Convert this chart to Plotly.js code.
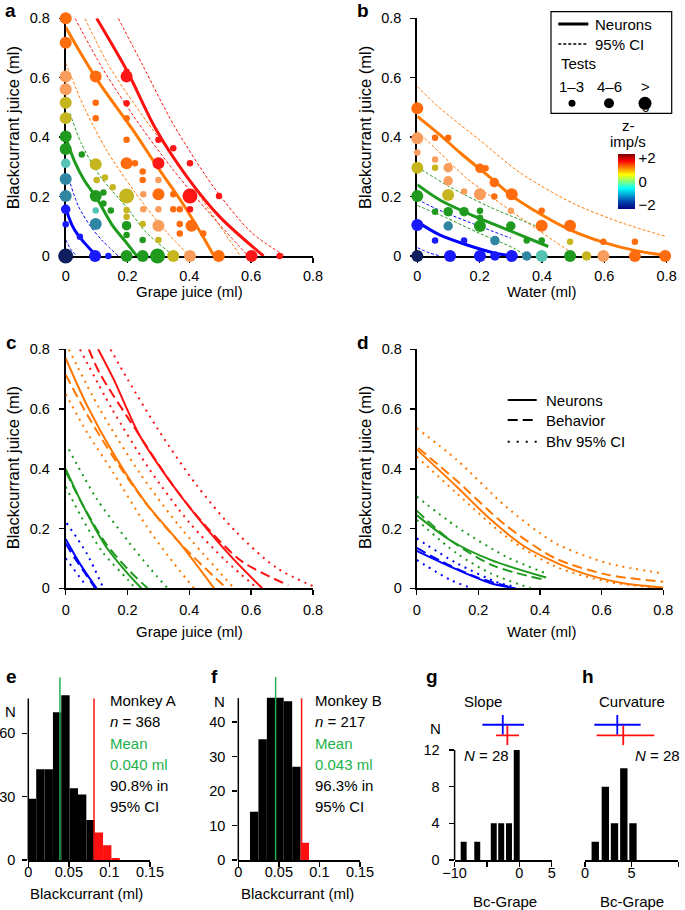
<!DOCTYPE html>
<html>
<head>
<meta charset="utf-8">
<script src="https://cdn.plot.ly/plotly-3.0.1.min.js"></script>
<style>body{margin:0;background:#fff}#fig{width:685px;height:910px}</style>
</head>
<body>
<div id="fig"></div>
<script>
// ---------- values ----------
const juiceTicks = [0, 0.2, 0.4, 0.6, 0.8]

// panel a: indifference curves, grape vs blackcurrant ([x, y] pairs)
const aBlue = [[0,0.16],[0.02,0.105],[0.04,0.07],[0.06,0.045],[0.08,0.022],[0.1,0]]
const aBlueLo = [[0,0.055],[0.015,0.025],[0.035,0]]
const aBlueHi = [[0.01,0.26],[0.04,0.17],[0.08,0.1],[0.12,0.05],[0.17,0]]
const aGreen = [[0,0.4],[0.03,0.315],[0.06,0.255],[0.1,0.195],[0.15,0.105],[0.2,0.04],[0.23,0]]
const aGreenHi = [[0.014,0.48],[0.05,0.38],[0.11,0.27],[0.2,0.16],[0.26,0.08],[0.35,0]]
const aOrange = [[0,0.77],[0.05,0.68],[0.11,0.58],[0.22,0.42],[0.29,0.31],[0.37,0.19],[0.43,0.09],[0.48,0]]
const aOrangeLo = [[0,0.65],[0.06,0.5],[0.13,0.36],[0.22,0.22],[0.31,0.1],[0.4,0]]
const aOrangeHi = [[0.062,0.8],[0.14,0.64],[0.25,0.47],[0.37,0.3],[0.48,0.13],[0.565,0]]
const aRed = [[0.1,0.8],[0.2,0.62],[0.29,0.43],[0.39,0.27],[0.5,0.13],[0.64,0]]
const aRedLo = [[0.03,0.8],[0.12,0.63],[0.22,0.47],[0.34,0.3],[0.46,0.15],[0.59,0]]
const aRedHi = [[0.17,0.8],[0.25,0.64],[0.35,0.44],[0.48,0.23],[0.6,0.08],[0.71,0]]

// panel a: neuronal responses (colour = z-score class, size = number of tests)
const aDotX = [0,0,0,0,0,0,0,0,0,0,0,0,0,0,
  0.095,0.138,0.197,0.249,0.297,0.348,0.402,0.495,0.601,0.692,
  0.046,0.097,0.097,0.097,0.122,0.122,0.146,0.052,0.097,0.1,0.127,0.152,0.197,0.197,0.197,0.197,0.197,0.249,0.249,0.3,0.3,0.251,0.251,0.249,0.249,0.197,0.224,0.197,0.197,0.197,0.197,0.097,0.097,0.097,0.197,0.3,0.348,0.3,0.3,0.3,0.348,0.348,0.369,0.369,0.369,0.407,0.402,0.402,0.402,0.445,0.496,0.3]
const aDotY = [0.8,0.718,0.604,0.561,0.516,0.464,0.402,0.36,0.312,0.259,0.202,0.157,0.107,0,
  0,0,0,0,0,0,0,0,0,0,
  0.065,0.108,0.153,0.202,0.214,0.177,0.153,0.342,0.309,0.256,0.264,0.231,0.202,0.155,0.132,0.102,0.071,0.054,0.108,0.054,0.102,0.157,0.208,0.256,0.284,0.312,0.312,0.391,0.464,0.604,0.62,0.604,0.516,0.464,0.514,0.391,0.363,0.312,0.256,0.208,0.208,0.157,0.157,0.108,0.076,0.102,0.157,0.312,0.202,0.076,0.202,0.157]
const aDotColor = ['or','or','pe','pe','ol','ol','gr','gr','te','st','st','bl','bl','na',
  'bl','bl','gr','gr','gr','ol','pe','or','re','re',
  'bl','st','te','gr','gr','gr','gr','gr','ol','ol','ol','ol','ol','ol','ol','gr','gr','gr','ol','ol','pe','pe','pe','or','or','or','or','or','or','re','re','or','or','or','re','re','re','re','pe','or','or','or','or','or','or','or','re','re','re','or','re','pe']
const aDotSize = [3,3,3,3,3,3,3,3,2,3,3,2,1,4,
  3,1,3,3,4,3,3,3,3,1,
  1,3,1,3,1,1,1,1,3,1,1,1,4,1,1,2,1,1,1,1,3,1,1,1,1,3,1,1,1,3,1,3,1,1,1,1,1,3,1,3,1,1,1,1,1,3,1,1,4,1,1,1]

// panel b: water vs blackcurrant
const bOrange = [[0,0.47],[0.07,0.41],[0.14,0.345],[0.25,0.25],[0.3,0.205],[0.4,0.138],[0.49,0.088],[0.6,0.045],[0.7,0.018],[0.79,0.003]]
const bOrangeLo = [[0,0.42],[0.07,0.35],[0.16,0.26],[0.25,0.19],[0.35,0.115],[0.44,0.05],[0.51,0]]
const bOrangeHi = [[0,0.57],[0.07,0.5],[0.2,0.39],[0.33,0.28],[0.5,0.177],[0.66,0.11],[0.8,0.065]]
const bGreen = [[0,0.24],[0.07,0.19],[0.18,0.135],[0.29,0.088],[0.42,0.032]]
const bGreenLo = [[0,0.17],[0.09,0.13],[0.2,0.076],[0.31,0.026],[0.35,0]]
const bGreenHi = [[0,0.3],[0.1,0.235],[0.23,0.166],[0.4,0.093]]
const bBlue = [[0,0.115],[0.07,0.072],[0.16,0.037],[0.24,0.012],[0.3,0]]
const bBlueLo = [[0,0.028],[0.04,0.01],[0.075,0]]
const bBlueHi = [[0,0.19],[0.08,0.15],[0.2,0.1],[0.3,0.06]]

const bDotX = [0,0,0,0,0,0,0,
  0.105,0.201,0.249,0.303,0.351,0.399,0.49,0.543,0.597,0.698,0.795,
  0.057,0.099,0.057,0.099,0.099,0.15,0.201,0.201,0.219,0.247,0.247,0.303,0.3,0.399,0.399,0.49,0.49,0.597,0.698,
  0.057,0.099,0.057,0.099,0.15,0.201,0.201,0.201,0.3,0.351,0.399,0.099,0.249,0.057,0.15]
const bDotY = [0.497,0.396,0.348,0.297,0.202,0.104,0,
  0,0,0,0,0,0,0,0,0,0,0,
  0.398,0.398,0.325,0.297,0.253,0.217,0.208,0.295,0.295,0.247,0.2,0.208,0.152,0.152,0.102,0.102,0.048,0.048,0.048,
  0.297,0.205,0.149,0.149,0.149,0.152,0.129,0.101,0.101,0.052,0.052,0.101,0.052,0.052,0.052]
const bDotColor = ['or','pe','pe','ol','gr','bl','na',
  'bl','bl','bl','bl','st','te','gr','ol','pe','or','or',
  'or','or','pe','pe','pe','pe','pe','or','or','or','or','or','pe','or','or','or','ol','or','or',
  'ol','ol','gr','gr','gr','gr','gr','gr','gr','gr','gr','st','st','bl','bl']
const bDotSize = [3,3,1,3,3,3,3,
  3,3,2,3,2,3,3,2,3,3,3,
  1,1,1,2,2,1,3,2,1,2,1,3,1,1,3,3,1,1,1,
  1,3,1,2,2,1,1,3,2,1,1,2,2,1,1]

// panel c: neurons (solid), behaviour (dashed), behaviour 95% CI (dotted)
const cRed = [[0.1,0.81],[0.155,0.7],[0.24,0.51],[0.35,0.34],[0.46,0.195],[0.545,0.095],[0.636,0]]
const cRedBhv = [[0.075,0.8],[0.11,0.72],[0.24,0.51],[0.35,0.34],[0.46,0.2],[0.57,0.09],[0.72,0.01]]
const cRedLo = [[0.046,0.8],[0.15,0.6],[0.27,0.4],[0.4,0.22],[0.52,0.09],[0.62,0]]
const cRedHi = [[0.145,0.8],[0.2,0.7],[0.3,0.53],[0.42,0.35],[0.55,0.19],[0.68,0.07],[0.815,0]]
const cOrange = [[0,0.77],[0.07,0.61],[0.155,0.45],[0.26,0.285],[0.37,0.15],[0.48,0]]
const cOrangeBhv = [[0,0.715],[0.07,0.58],[0.16,0.43],[0.27,0.27],[0.38,0.14],[0.52,0]]
const cOrangeLo = [[0,0.65],[0.07,0.52],[0.155,0.385],[0.26,0.21],[0.33,0.11],[0.415,0]]
const cOrangeHi = [[0.01,0.8],[0.11,0.6],[0.24,0.385],[0.37,0.205],[0.545,0]]
const cGreen = [[0,0.4],[0.057,0.275],[0.13,0.14],[0.2,0.05],[0.245,0]]
const cGreenBhv = [[0,0.39],[0.06,0.27],[0.13,0.15],[0.2,0.065],[0.265,0]]
const cGreenLo = [[0,0.34],[0.05,0.24],[0.12,0.12],[0.2,0.03],[0.225,0]]
const cGreenHi = [[0.01,0.465],[0.1,0.3],[0.2,0.16],[0.27,0.07],[0.33,0]]
const cBlue = [[0,0.165],[0.03,0.11],[0.06,0.06],[0.1,0]]
const cBlueBhv = [[0,0.15],[0.03,0.1],[0.06,0.055],[0.095,0]]
const cBlueLo = [[0,0.1],[0.068,0.006]]
const cBlueHi = [[0.003,0.218],[0.068,0.117],[0.122,0]]

// panel d
const dOrange = [[0,0.465],[0.13,0.34],[0.24,0.23],[0.35,0.14],[0.51,0.061],[0.67,0.017],[0.8,0.003]]
const dOrangeBhv = [[0.005,0.47],[0.13,0.36],[0.29,0.21],[0.45,0.1],[0.62,0.045],[0.8,0.022]]
const dOrangeLo = [[0,0.441],[0.13,0.318],[0.29,0.173],[0.45,0.073],[0.62,0.022],[0.8,0]]
const dOrangeHi = [[0,0.536],[0.13,0.43],[0.29,0.273],[0.45,0.151],[0.62,0.084],[0.8,0.05]]
const dGreen = [[0,0.245],[0.11,0.16],[0.24,0.095],[0.42,0.036]]
const dGreenBhv = [[0,0.26],[0.11,0.16],[0.25,0.075],[0.41,0.03]]
const dGreenLo = [[0,0.229],[0.13,0.117],[0.24,0.05],[0.37,0]]
const dGreenHi = [[0,0.307],[0.13,0.206],[0.29,0.106],[0.42,0.05]]
const dBlue = [[0,0.125],[0.11,0.072],[0.24,0.017],[0.32,0]]
const dBlueBhv = [[0,0.135],[0.1,0.08],[0.2,0.035],[0.3,0.005]]
const dBlueLo = [[0,0.095],[0.11,0.028],[0.18,0]]
const dBlueHi = [[0,0.167],[0.13,0.084],[0.27,0.017],[0.325,0.005]]

// panel e: monkey A
const eCenters = [0.0046,0.0149,0.0252,0.0355,0.0458,0.0561,0.0664,0.0767,0.0870,0.0973,0.1076]
const eCounts = [29,43,43,70,78,34,31,19,13,7,1]
const eMean = 0.039
const eCI = 0.081
const eTicks = [0, 0.05, 0.1, 0.15]
const eYTicks = [0, 30, 60]

// panel f: monkey B
const fCenters = [0.0196,0.0300,0.0404,0.0508,0.0612,0.0716,0.0820]
const fCounts = [14,35,47,47,46,27,5]
const fMean = 0.046
const fCI = 0.078
const fYTicks = [0, 10, 20, 30, 40]

// panel g: slope, Bc-Grape
const gCenters = [-8.6,-6.5,-3.95,-2.8,-1.6,-0.4]
const gCounts = [2,2,4,4,4,12]
const gMean = [-2.56, -1.85]
const gLo = [-5.7, -3.6]
const gHi = [0.72, -0.05]

// panel h: curvature, Bc-Grape
const hCenters = [1.1,2.18,3.16,4.16,5.14]
const hCounts = [2,8,4,10,4]
const hMean = [3.46, 4.1]
const hLo = [1.0, 1.25]
const hHi = [5.96, 7.43]

const zTicks = [-2, 0, 2]
const zTickText = ['\u22122', '0', '+2']

// ---------- styles ----------
const W = 685, H = 910
const FONT = 'Liberation Sans, Arial, sans-serif'
const RED = '#ff1010', ORANGE = '#ff7800', GREEN = '#1e9a1e', BLUE = '#0000ff'
const MEANGREEN = '#22b14c'
const PAL = {na:'#0d1f5e', bl:'#1a1aff', st:'#2f87a1', te:'#55c3b3', gr:'#1f9a1f',
  ol:'#c5b51f', pe:'#f99d5c', or:'#ff6c0e', re:'#ff1616'}
const DOTSIZE = [0, 6.5, 9.5, 12, 15]

function fx(px){ return px / W }
function fy(py){ return 1 - py / H }

function curve(pts, xa, ya, color, width, dash){
	let xs = [], ys = []
	for(let p of pts){
		xs.push(p[0])
		ys.push(p[1])
	}
	return {type:'scatter', mode:'lines', x:xs, y:ys, xaxis:xa, yaxis:ya, hoverinfo:'skip',
		line:{color:color, width:width, dash:dash, shape:'spline', smoothing:0.8}}
}

function dots(xs, ys, cs, ss, xa, ya){
	return {type:'scatter', mode:'markers', x:xs, y:ys, xaxis:xa, yaxis:ya, cliponaxis:false, hoverinfo:'skip',
		marker:{color:cs.map(c => PAL[c]), size:ss.map(s => DOTSIZE[s]), line:{width:0}, opacity:1}}
}

function bars(xs, ys, width, colors, xa, ya){
	return {type:'bar', x:xs, y:ys, width:width, xaxis:xa, yaxis:ya, hoverinfo:'skip',
		marker:{color:colors, line:{width:0}}}
}

function summary(mean, lo, hi, xa, ya){
	let out = []
	let rows = [14.75, 13.6]
	let cols = [BLUE, RED]
	for(let i=0;i<mean.length;i++){
		out.push({type:'scatter', mode:'markers', x:[mean[i]], y:[rows[i]], xaxis:xa, yaxis:ya,
			cliponaxis:false, hoverinfo:'skip',
			marker:{symbol:'line-ns', size:14, color:cols[i], line:{width:1.8, color:cols[i]}},
			error_x:{type:'data', symmetric:false, array:[hi[i]-mean[i]], arrayminus:[mean[i]-lo[i]],
				width:0, thickness:1.8, color:cols[i]}})
	}
	return out
}

let traces = []

// a
for(let c of [[aBlueLo,BLUE],[aBlueHi,BLUE],[aGreenHi,GREEN],[aOrangeLo,ORANGE],[aOrangeHi,ORANGE],[aRedLo,RED],[aRedHi,RED]])
	traces.push(curve(c[0],'x','y',c[1],1,'3px,2px'))
for(let c of [[aBlue,BLUE],[aGreen,GREEN],[aOrange,ORANGE],[aRed,RED]])
	traces.push(curve(c[0],'x','y',c[1],3,'solid'))
traces.push(dots(aDotX,aDotY,aDotColor,aDotSize,'x','y'))

// b
for(let c of [[bBlueLo,BLUE],[bBlueHi,BLUE],[bGreenLo,GREEN],[bGreenHi,GREEN],[bOrangeLo,ORANGE],[bOrangeHi,ORANGE]])
	traces.push(curve(c[0],'x2','y2',c[1],1,'3px,2px'))
for(let c of [[bBlue,BLUE],[bGreen,GREEN],[bOrange,ORANGE]])
	traces.push(curve(c[0],'x2','y2',c[1],3,'solid'))
traces.push(dots(bDotX,bDotY,bDotColor,bDotSize,'x2','y2'))

// colour scale for z-imp/s (invisible carrier point)
traces.push({type:'scatter', mode:'markers', x:[bDotX[0]], y:[bDotY[0]], xaxis:'x2', yaxis:'y2', hoverinfo:'skip',
	marker:{size:2, opacity:0, color:[0], cmin:-2.36, cmax:2.36, colorscale:'Jet', showscale:true,
		colorbar:{x:fx(618.3), xanchor:'left', xpad:0, ypad:0, y:fy(181.5), yanchor:'middle',
			len:55/H, lenmode:'fraction', thickness:17, thicknessmode:'pixels', outlinewidth:0,
			tickvals:zTicks, ticktext:zTickText, ticks:'', tickfont:{family:FONT, size:15, color:'black'},
			title:{text:''}}}})

// c
for(let c of [[cBlueLo,BLUE],[cBlueHi,BLUE],[cGreenLo,GREEN],[cGreenHi,GREEN],[cOrangeLo,ORANGE],[cOrangeHi,ORANGE],[cRedLo,RED],[cRedHi,RED]])
	traces.push(curve(c[0],'x3','y3',c[1],2,'2px,5px'))
for(let c of [[cBlueBhv,BLUE],[cGreenBhv,GREEN],[cOrangeBhv,ORANGE],[cRedBhv,RED]])
	traces.push(curve(c[0],'x3','y3',c[1],2,'10px,5px'))
for(let c of [[cBlue,BLUE],[cGreen,GREEN],[cOrange,ORANGE],[cRed,RED]])
	traces.push(curve(c[0],'x3','y3',c[1],2,'solid'))

// d
for(let c of [[dBlueLo,BLUE],[dBlueHi,BLUE],[dGreenLo,GREEN],[dGreenHi,GREEN],[dOrangeLo,ORANGE],[dOrangeHi,ORANGE]])
	traces.push(curve(c[0],'x4','y4',c[1],2,'2px,5px'))
for(let c of [[dBlueBhv,BLUE],[dGreenBhv,GREEN],[dOrangeBhv,ORANGE]])
	traces.push(curve(c[0],'x4','y4',c[1],2,'10px,5px'))
for(let c of [[dBlue,BLUE],[dGreen,GREEN],[dOrange,ORANGE]])
	traces.push(curve(c[0],'x4','y4',c[1],2,'solid'))

// e, f
traces.push(bars(eCenters, eCounts, 0.0103, eCenters.map(c => c > eCI ? RED : 'black'), 'x5', 'y5'))
traces.push(bars(fCenters, fCounts, 0.0104, fCenters.map(c => c > fCI ? RED : 'black'), 'x6', 'y6'))

// g, h
traces.push(bars(gCenters, gCounts, 0.92, 'black', 'x7', 'y7'))
traces.push(bars(hCenters, hCounts, 0.79, 'black', 'x8', 'y8'))
traces = traces.concat(summary(gMean, gLo, gHi, 'x7', 'y7'))
traces = traces.concat(summary(hMean, hLo, hHi, 'x8', 'y8'))

// ---------- layout ----------
function axisStyle(extra){
	return Object.assign({
		showgrid:false, zeroline:false, showline:true, linecolor:'black', linewidth:2,
		ticks:'outside', ticklen:5, tickwidth:1.5, tickcolor:'black', ticklabelstandoff:3,
		tickfont:{family:FONT, size:14.5, color:'black'}, layer:'below traces', fixedrange:true
	}, extra)
}

function note(text, x, y, size, extra){
	return Object.assign({text:text, xref:'paper', yref:'paper', x:fx(x), y:fy(y), showarrow:false,
		xanchor:'center', yanchor:'middle', font:{family:FONT, size:size, color:'black'}}, extra || {})
}

function pline(x0, y0, x1, y1, width, dash, color){
	return {type:'line', xref:'paper', yref:'paper', x0:fx(x0), y0:fy(y0), x1:fx(x1), y1:fy(y1),
		line:{color:color || 'black', width:width, dash:dash || 'solid'}}
}

function pdot(cx, cy, r){
	return {type:'circle', xref:'paper', yref:'paper', x0:fx(cx-r), x1:fx(cx+r), y0:fy(cy+r), y1:fy(cy-r),
		fillcolor:'black', line:{width:0}}
}

let layout = {
	width:W, height:H, margin:{l:0, r:0, t:0, b:0},
	paper_bgcolor:'white', plot_bgcolor:'rgba(0,0,0,0)', showlegend:false,
	font:{family:FONT, color:'black'},

	xaxis: axisStyle({domain:[fx(65.7),fx(313)], anchor:'y', range:[0,0.8], tickvals:juiceTicks, ticklabelstandoff:1}),
	yaxis: axisStyle({domain:[fy(256),fy(18.3)], anchor:'x', range:[0,0.8], tickvals:juiceTicks, ticklabelstandoff:6}),
	xaxis2: axisStyle({domain:[fx(417.3),fx(666.7)], anchor:'y2', range:[0,0.8], tickvals:juiceTicks, ticklabelstandoff:1}),
	yaxis2: axisStyle({domain:[fy(256),fy(18.3)], anchor:'x2', range:[0,0.8], tickvals:juiceTicks, ticklabelstandoff:6}),
	xaxis3: axisStyle({domain:[fx(65.7),fx(313)], anchor:'y3', range:[0,0.8], tickvals:juiceTicks, ticklabelstandoff:2}),
	yaxis3: axisStyle({domain:[fy(588.3),fy(349.3)], anchor:'x3', range:[0,0.8], tickvals:juiceTicks, ticklabelstandoff:6}),
	xaxis4: axisStyle({domain:[fx(416.7),fx(663.3)], anchor:'y4', range:[0,0.8], tickvals:juiceTicks, ticklabelstandoff:2}),
	yaxis4: axisStyle({domain:[fy(588.3),fy(349.3)], anchor:'x4', range:[0,0.8], tickvals:juiceTicks, ticklabelstandoff:5}),

	xaxis5: axisStyle({domain:[fx(28.3),fx(150)], anchor:'y5', range:[0,0.15], tickvals:eTicks, linewidth:1.5, ticklabelstandoff:-7}),
	yaxis5: axisStyle({domain:[fy(860),fy(677.4)], anchor:'x5', range:[0,86.5], tickvals:eYTicks, showline:false, ticklabelstandoff:4}),
	xaxis6: axisStyle({domain:[fx(238.3),fx(360)], anchor:'y6', range:[0,0.15], tickvals:eTicks, linewidth:1.5, ticklabelstandoff:-7}),
	yaxis6: axisStyle({domain:[fy(860),fy(677.1)], anchor:'x6', range:[0,53], tickvals:fYTicks, showline:false, ticklabelstandoff:4}),
	xaxis7: axisStyle({domain:[fx(454.6),fx(551.7)], anchor:'y7', range:[-10,5], tickvals:[-10,-5,0,5],
		ticktext:['\u221210','','0','5'], linewidth:1.5, ticklabelstandoff:-6}),
	yaxis7: axisStyle({domain:[fy(860),fy(713.3)], anchor:'x7', range:[0,16], tickvals:[0,4,8,12], showline:false, ticklabelstandoff:6}),
	xaxis8: axisStyle({domain:[fx(585),fx(678.3)], anchor:'y8', range:[0,10], tickvals:[0,5,10], linewidth:1.5, ticklabelstandoff:-6}),
	yaxis8: axisStyle({domain:[fy(860),fy(713.3)], anchor:'x8', range:[0,16], visible:false}),

	shapes: [
		// b legend
		{type:'rect', xref:'paper', yref:'paper', x0:fx(551), x1:fx(671.7), y0:fy(113.3), y1:fy(11.7), line:{color:'black', width:1.2}},
		pline(558.3, 24, 588.3, 24, 3),
		pline(558.3, 44, 588.3, 44, 1.5, '3px,2px'),
		pdot(572, 103.3, 3.5), pdot(609, 103.3, 5), pdot(645, 103.3, 6.5),
		// d legend
		pline(507.7, 400, 536.7, 400, 2),
		pline(507.7, 420, 536.7, 420, 2, '10px,5px'),
		pline(507.7, 441.7, 536.7, 441.7, 2, '2px,7px'),
		// e, f, g left axis lines and mean / CI markers
		{type:'line', xref:'paper', yref:'y5', x0:fx(28.3), x1:fx(28.3), y0:0, y1:76.5, line:{color:'black', width:1.5}},
		{type:'line', xref:'x5', yref:'y5 domain', x0:eMean, x1:eMean, y0:0, y1:1, line:{color:MEANGREEN, width:1.5}},
		{type:'line', xref:'x5', yref:'y5', x0:eCI, x1:eCI, y0:0, y1:76.5, line:{color:RED, width:1.5}},
		{type:'line', xref:'paper', yref:'y6', x0:fx(238.3), x1:fx(238.3), y0:0, y1:46.9, line:{color:'black', width:1.5}},
		{type:'line', xref:'x6', yref:'y6 domain', x0:fMean, x1:fMean, y0:0, y1:1, line:{color:MEANGREEN, width:1.5}},
		{type:'line', xref:'x6', yref:'y6', x0:fCI, x1:fCI, y0:0, y1:46.9, line:{color:RED, width:1.5}},
		{type:'line', xref:'paper', yref:'y7', x0:fx(454.6), x1:fx(454.6), y0:0, y1:12, line:{color:'black', width:1.5}}
	],

	annotations: [
		note('<b>a</b>', 10, 11, 19), note('<b>b</b>', 363, 11, 19),
		note('<b>c</b>', 11.7, 342, 19), note('<b>d</b>', 362.5, 342, 19),
		note('<b>e</b>', 11.7, 676, 19), note('<b>f</b>', 214, 676, 19),
		note('<b>g</b>', 432.5, 676, 19), note('<b>h</b>', 587.5, 676, 19),

		note('Grape juice (ml)', 189, 291, 15), note('Water (ml)', 541.7, 291, 15),
		note('Grape juice (ml)', 189, 631, 15), note('Water (ml)', 541.7, 631, 15),
		note('Blackcurrant juice (ml)', 13.3, 128, 16.5, {textangle:-90}),
		note('Blackcurrant juice (ml)', 365, 128, 16.5, {textangle:-90}),
		note('Blackcurrant juice (ml)', 13.3, 468, 16.5, {textangle:-90}),
		note('Blackcurrant juice (ml)', 365, 468, 16.5, {textangle:-90}),

		// b legend text
		note('Neurons', 593.3, 24, 15, {xanchor:'left'}),
		note('95% CI', 593.3, 44, 15, {xanchor:'left'}),
		note('Tests', 559, 64, 15, {xanchor:'left'}),
		note('1\u20133', 571.7, 86, 15), note('4\u20136', 609, 86, 15), note('>', 645, 86, 15),
		note('6', 645, 107, 13),
		note('z-', 628, 126, 15),
		note('imp/s', 628, 141, 15),

		// d legend text
		note('Neurons', 544, 400, 15, {xanchor:'left'}),
		note('Behavior', 544, 420, 15, {xanchor:'left'}),
		note('Bhv 95% CI', 544, 441.7, 15, {xanchor:'left'}),

		// e
		note('N', 10, 711.7, 15),
		note('Monkey A', 108.3, 700, 15, {xanchor:'left'}),
		note('<i>n</i> = 368', 108.3, 721.7, 15, {xanchor:'left'}),
		note('Mean', 108.3, 743.3, 15, {xanchor:'left', font:{family:FONT, size:15, color:MEANGREEN}}),
		note('0.040 ml', 108.3, 764.5, 15, {xanchor:'left', font:{family:FONT, size:15, color:MEANGREEN}}),
		note('90.8% in', 108.3, 785.5, 15, {xanchor:'left'}),
		note('95% CI', 108.3, 806.5, 15, {xanchor:'left'}),
		note('Blackcurrant (ml)', 87, 893, 15),

		// f
		note('N', 219, 701.7, 15),
		note('Monkey B', 313.3, 700, 15, {xanchor:'left'}),
		note('<i>n</i> = 217', 313.3, 721.7, 15, {xanchor:'left'}),
		note('Mean', 313.3, 743.3, 15, {xanchor:'left', font:{family:FONT, size:15, color:MEANGREEN}}),
		note('0.043 ml', 313.3, 764.5, 15, {xanchor:'left', font:{family:FONT, size:15, color:MEANGREEN}}),
		note('96.3% in', 313.3, 785.5, 15, {xanchor:'left'}),
		note('95% CI', 313.3, 806.5, 15, {xanchor:'left'}),
		note('Blackcurrant (ml)', 297, 893, 15),

		// g, h
		note('Slope', 483.3, 701, 15),
		note('N', 435, 728.3, 15),
		note('<i>N</i> = 28', 461.7, 755, 15, {xanchor:'left'}),
		note('Bc-Grape', 505, 901.5, 15),
		note('Curvature', 631.7, 701, 15),
		note('<i>N</i> = 28', 681.7, 755, 15, {xanchor:'right'}),
		note('Bc-Grape', 631.7, 901.5, 15)
	]
}

Plotly.newPlot('fig', traces, layout, {staticPlot:true})
</script>
</body>
</html>
